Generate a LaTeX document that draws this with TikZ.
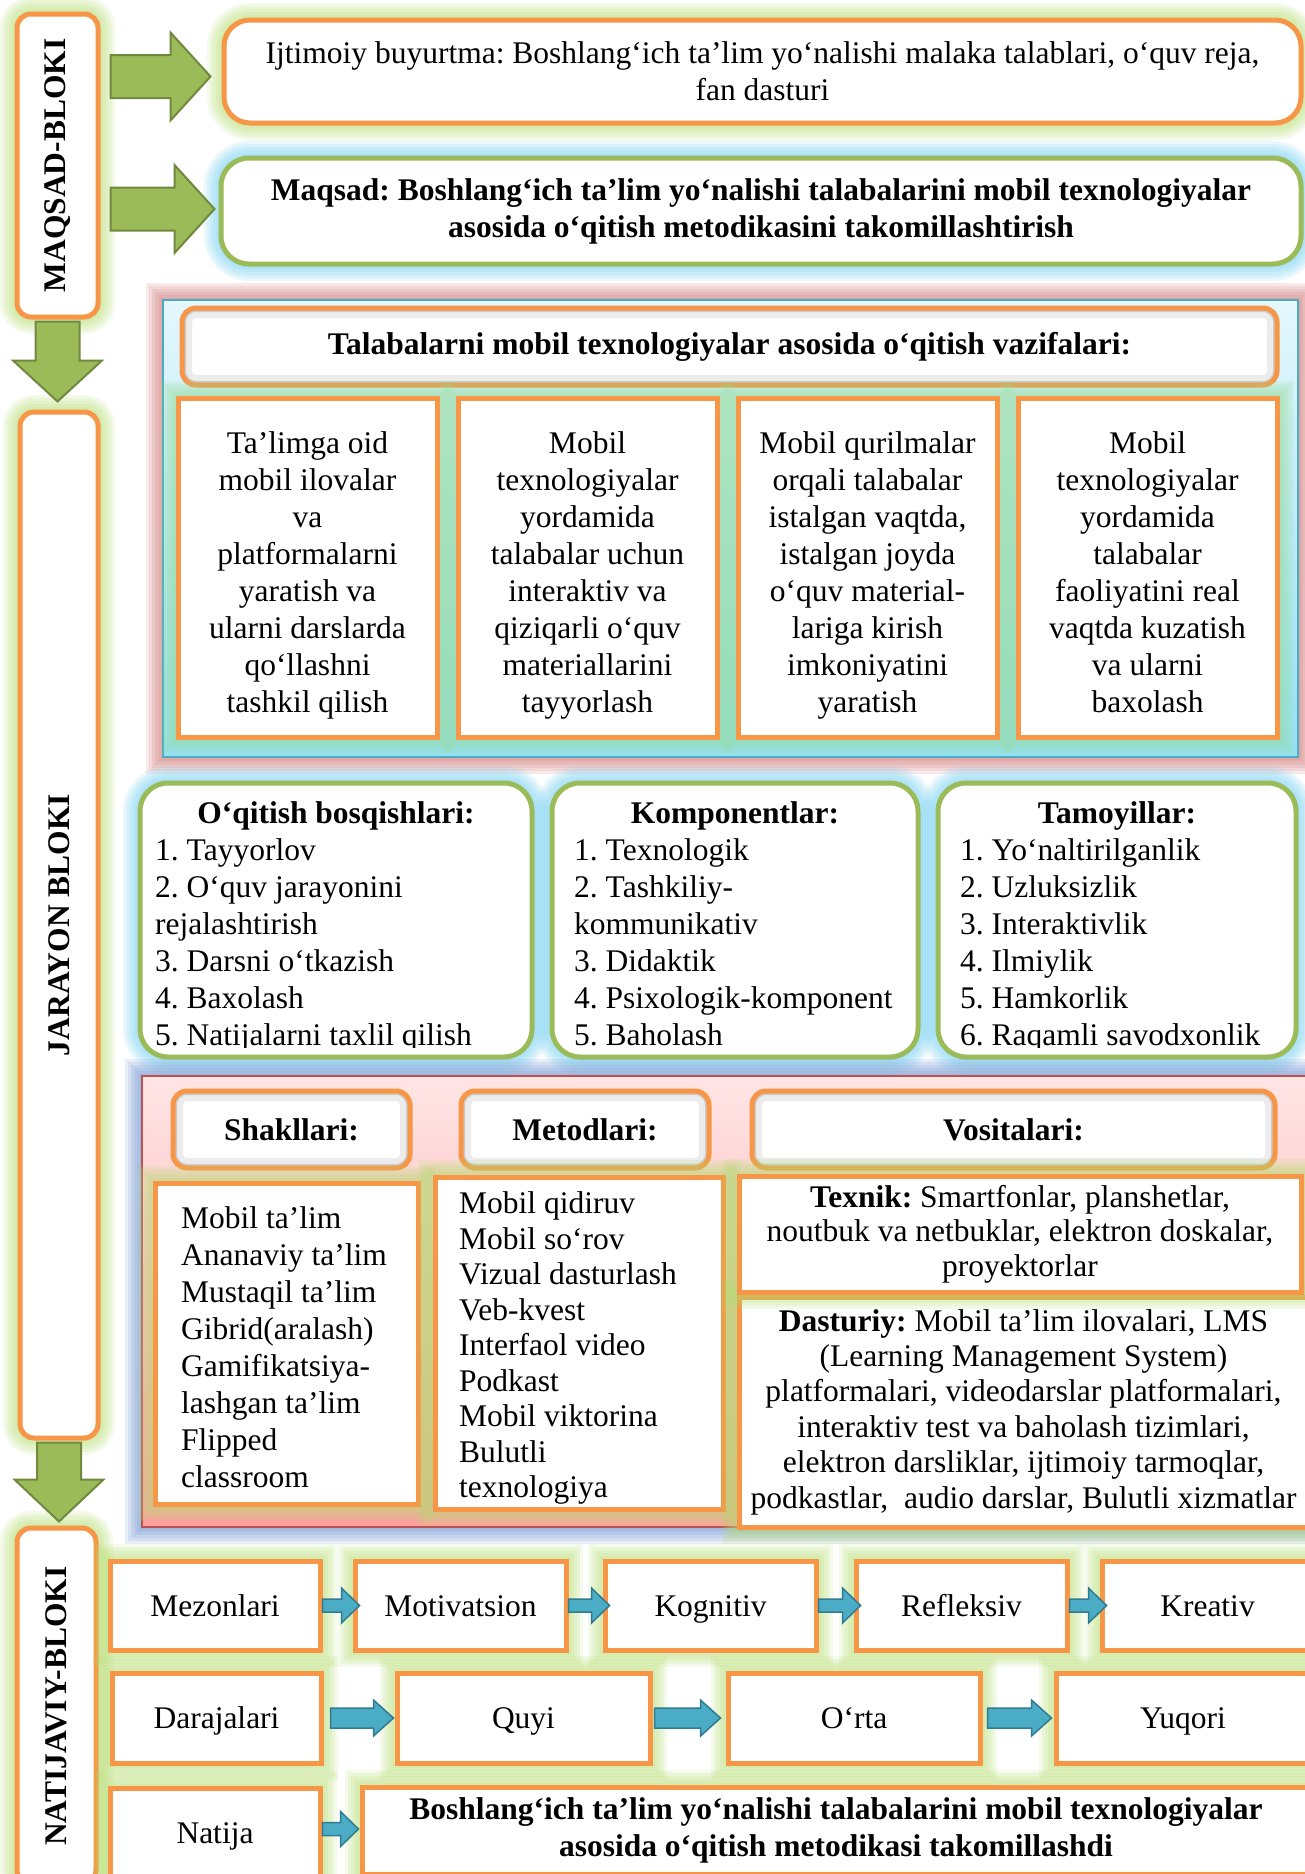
\documentclass[tikz,border=0pt]{standalone}
\usepackage{fontspec}
\setmainfont{Liberation Serif}
\usepackage{graphicx}
\usetikzlibrary{calc}
\frenchspacing

\definecolor{orng}{RGB}{247,150,70}
\definecolor{grnb}{RGB}{155,187,89}
\definecolor{glowg}{RGB}{180,220,110}
\definecolor{glowt}{RGB}{150,220,150}
\definecolor{glowc}{RGB}{110,205,240}
\definecolor{glowr}{RGB}{205,110,110}
\definecolor{glowbl}{RGB}{100,140,205}
\definecolor{cyantop}{RGB}{228,247,253}
\definecolor{cyanbot}{RGB}{150,224,244}
\definecolor{cyanline}{RGB}{75,172,198}
\definecolor{pinktop}{RGB}{255,229,229}
\definecolor{pinkbot}{RGB}{255,160,160}
\definecolor{pinkline}{RGB}{192,80,77}
\definecolor{arrg}{RGB}{155,187,89}
\definecolor{arrgd}{RGB}{113,137,63}
\definecolor{arrb}{RGB}{75,172,198}
\definecolor{arrbd}{RGB}{49,123,145}

% block arrows: style, from, to, half shaft, half head, head length
\newcommand{\harr}[6]{\filldraw[#1] let \p1=#2, \p2=#3 in (\x1,\y1+#4) -- (\x2-#6,\y1+#4) -- (\x2-#6,\y1+#5) -- (\x2,\y1) -- (\x2-#6,\y1-#5) -- (\x2-#6,\y1-#4) -- (\x1,\y1-#4) --cycle;}
\newcommand{\varr}[6]{\filldraw[#1] let \p1=#2, \p2=#3 in (\x1-#4,\y1) -- (\x1-#4,\y2+#6) -- (\x1-#5,\y2+#6) -- (\x1,\y2) -- (\x1+#5,\y2+#6) -- (\x1+#4,\y2+#6) -- (\x1+#4,\y1) --cycle;}
\newcommand{\toprow}{\rule{0pt}{37.5pt}}

\begin{document}
\begin{tikzpicture}[x=1pt,y=-1pt,
 every node/.style={font=\fontsize{31.5}{37}\selectfont,inner sep=0pt},
 halo/.style={preaction={draw=#1,draw opacity=.15,line width=34pt},
  preaction={draw=#1,draw opacity=.15,line width=28pt},
  preaction={draw=#1,draw opacity=.15,line width=22pt},
  preaction={draw=#1,draw opacity=.15,line width=16pt},
  preaction={draw=#1,draw opacity=.15,line width=10pt},
  preaction={draw=#1,draw opacity=.15,line width=5pt}},
 lblock/.style={draw=orng,line width=5pt,fill=white,rounded corners=14pt,halo=glowg},
 obox/.style={draw=orng,line width=5pt,fill=white,halo=glowg},
 nbox/.style={obox,text height=21.5pt,text depth=0pt},
 tbox/.style={draw=orng,line width=5pt,fill=white,halo=glowt,align=center},
 rbox/.style={draw=grnb,line width=5pt,fill=white,rounded corners=28pt,halo=glowc},
 hdr/.style={draw=orng,line width=5pt,fill=white,rounded corners=14pt,
  font=\fontsize{31.5}{37}\selectfont\bfseries,
  path picture={\draw[gray!15,line width=20pt,rounded corners=14pt] (path picture bounding box.south west) rectangle (path picture bounding box.north east);
   \draw[gray!40,line width=8pt,rounded corners=14pt] (path picture bounding box.south west) rectangle (path picture bounding box.north east);}},
 bold/.style={font=\fontsize{31.5}{37}\selectfont\bfseries},
 garr/.style={fill=arrg,draw=arrgd,line width=2pt},
 barr/.style={fill=arrb,draw=arrbd,line width=1.5pt}]
\useasboundingbox (0,0) rectangle (1304,1874);

% left column
\node[lblock,minimum width=81pt,minimum height=303pt] (maqsadblok) at (57.5,165.5) {\rotatebox{90}{\textbf{MAQSAD-BLOKI}}};
\node[lblock,minimum width=78pt,minimum height=1026pt] (jarayonblok) at (59,925) {\rotatebox{90}{\textbf{JARAYON BLOKI}}};
\node[lblock,minimum width=79pt,minimum height=356pt] (natijablok) at (56.5,1706) {\rotatebox{90}{\textbf{NATIJAVIY-BLOKI}}};

% maqsad
\node[obox,rounded corners=26pt,minimum width=1077pt,minimum height=103pt,align=center] (ijt) at (762.5,71.5) {Ijtimoiy buyurtma: Boshlang‘ich ta’lim yo‘nalishi malaka talablari, o‘quv reja,\\fan dasturi};
\node[rbox,bold,minimum width=1080pt,minimum height=106pt,align=center] (mqs) at (761,211) {Maqsad: Boshlang‘ich ta’lim yo‘nalishi talabalarini mobil texnologiyalar\\asosida o‘qitish metodikasini takomillashtirish};

% vazifalar
\node[draw=cyanline,line width=1.5pt,top color=cyantop,bottom color=cyanbot,halo=glowr,minimum width=1135pt,minimum height=457pt] (vazifa) at (730.5,528.5) {};
\node[hdr,minimum width=1095pt,minimum height=77pt] (hvaz) at (729.5,346.5) {Talabalarni mobil texnologiyalar asosida o‘qitish vazifalari:};
\node[tbox,minimum width=259pt,minimum height=339pt] (vaz1) at (307.5,567.5) {\toprow Ta’limga oid\\mobil ilovalar\\va\\platformalarni\\yaratish va\\ularni darslarda\\qo‘llashni\\tashkil qilish};
\node[tbox,minimum width=259pt,minimum height=339pt] (vaz2) at (587.5,567.5) {\toprow Mobil\\texnologiyalar\\yordamida\\talabalar uchun\\interaktiv va\\qiziqarli o‘quv\\materiallarini\\tayyorlash};
\node[tbox,minimum width=259pt,minimum height=339pt] (vaz3) at (867.5,567.5) {\toprow Mobil qurilmalar\\orqali talabalar\\istalgan vaqtda,\\istalgan joyda\\o‘quv material-\\lariga kirish\\imkoniyatini\\yaratish};
\node[tbox,minimum width=259pt,minimum height=339pt] (vaz4) at (1147.5,567.5) {\toprow Mobil\\texnologiyalar\\yordamida\\talabalar\\faoliyatini real\\vaqtda kuzatish\\va ularni\\baxolash\vphantom{y}};

% bosqich, komponent, tamoyil
\node[rbox,minimum width=392pt,minimum height=274pt] (bosq) at (336,920) {};
\node[rbox,minimum width=366pt,minimum height=274pt] (komp) at (735,920) {};
\node[rbox,minimum width=358pt,minimum height=274pt] (tamo) at (1117,920) {};
\node[bold,anchor=base] (hbosq) at (336,823) {O‘qitish bosqishlari:};
\node[bold,anchor=base] (hkomp) at (735,823) {Komponentlar:};
\node[bold,anchor=base] (htamo) at (1117,823) {Tamoyillar:};
\begin{scope}
\clip (130,790) rectangle (1304,1047);
\node[anchor=north west,align=left] (lbosq) at (155,838.5) {1. Tayyorlov\\2. O‘quv jarayonini\\rejalashtirish\\3. Darsni o‘tkazish\\4. Baxolash\\5. Natijalarni taxlil qilish};
\node[anchor=north west,align=left] (lkomp) at (574,838.5) {1. Texnologik\\2. Tashkiliy-\\kommunikativ\\3. Didaktik\\4. Psixologik-komponent\\5. Baholash};
\node[anchor=north west,align=left] (ltamo) at (960,838.5) {1. Yo‘naltirilganlik\\2. Uzluksizlik\\3. Interaktivlik\\4. Ilmiylik\\5. Hamkorlik\\6. Raqamli savodxonlik};
\end{scope}

% shakl, metod, vosita
\node[draw=pinkline,line width=1.5pt,top color=pinktop,bottom color=pinkbot,halo=glowbl,minimum width=1168pt,minimum height=451pt] (usul) at (726,1301.5) {};
\node[hdr,minimum width=237pt,minimum height=77pt] (hshak) at (291.5,1129.5) {Shakllari:};
\node[hdr,minimum width=248pt,minimum height=77pt] (hmet) at (585,1129.5) {Metodlari:};
\node[hdr,minimum width=523pt,minimum height=77pt] (hvos) at (1013.5,1129.5) {Vositalari:};
\node[obox,minimum width=263pt,minimum height=321pt] (shak) at (286.5,1343.5) {};
\node[obox,minimum width=288pt,minimum height=332pt] (met) at (579,1343) {};
\node[obox,minimum width=569pt,minimum height=230pt,align=center,font=\fontsize{31.5}{35.4}\selectfont] (das) at (1023.5,1412) {\textbf{Dasturiy:} Mobil ta’lim ilovalari, LMS\\(Learning Management System)\\platformalari, videodarslar platformalari,\\interaktiv test va baholash tizimlari,\\elektron darsliklar, ijtimoiy tarmoqlar,\\podkastlar,~ audio darslar, Bulutli xizmatlar};
\node[obox,minimum width=562pt,minimum height=116pt,align=center,font=\fontsize{31.5}{34.5}\selectfont] (tex) at (1020,1234) {\textbf{Texnik:} Smartfonlar, planshetlar,\\noutbuk va netbuklar, elektron doskalar,\\proyektorlar};
\node[anchor=north west,align=left] (lshak) at (181,1206.5) {Mobil ta’lim\\Ananaviy ta’lim\\Mustaqil ta’lim\\Gibrid(aralash)\\Gamifikatsiya-\\lashgan ta’lim\\Flipped\\classroom};
\node[anchor=north west,align=left,font=\fontsize{31.5}{35.5}\selectfont] (lmet) at (459,1191.5) {Mobil qidiruv\\Mobil so‘rov\\Vizual dasturlash\\Veb-kvest\\Interfaol video\\Podkast\\Mobil viktorina\\Bulutli\\texnologiya};

% natijalar
\node[nbox,minimum width=210pt,minimum height=89pt] (mez) at (215,1605.5) {Mezonlari};
\node[nbox,minimum width=211pt,minimum height=89pt] (mot) at (460.5,1605.5) {Motivatsion};
\node[nbox,minimum width=211pt,minimum height=89pt] (kog) at (710.5,1605.5) {Kognitiv};
\node[nbox,minimum width=211pt,minimum height=89pt] (ref) at (961.5,1605.5) {Refleksiv};
\node[nbox,minimum width=211pt,minimum height=89pt] (kre) at (1207.5,1605.5) {Kreativ};
\node[nbox,minimum width=209pt,minimum height=90pt] (dar) at (216.5,1718) {Darajalari};
\node[nbox,minimum width=253pt,minimum height=90pt] (quyi) at (523.5,1718) {Quyi};
\node[nbox,minimum width=252pt,minimum height=90pt] (orta) at (854,1718) {O‘rta};
\node[nbox,minimum width=254pt,minimum height=90pt] (yuq) at (1183,1718) {Yuqori};
\node[nbox,minimum width=210pt,minimum height=90pt] (nat) at (215,1833) {Natija};
\node[obox,bold,minimum width=948pt,minimum height=87pt,align=center] (fin) at (836,1830.5) {Boshlang‘ich ta’lim yo‘nalishi talabalarini mobil texnologiyalar\\asosida o‘qitish metodikasi takomillashdi};

% arrows
\harr{garr}{($(maqsadblok.east |- ijt.west)+(10,5)$)}{($(ijt.west)+(-11,5)$)}{21.5pt}{44pt}{40pt}
\harr{garr}{($(maqsadblok.east |- mqs.west)+(10,-2)$)}{($(mqs.west)+(-4,-2)$)}{21.5pt}{44pt}{40pt}
\varr{garr}{($(maqsadblok.south)+(0,2)$)}{($(jarayonblok.north)+(0,-8)$)}{22pt}{44.5pt}{41pt}
\varr{garr}{($(jarayonblok.south)+(0,2)$)}{($(natijablok.north)+(0,-4)$)}{22pt}{44.5pt}{42pt}
\harr{barr}{(mez.east)}{($(mot.west)+(7,0)$)}{6.5pt}{17.5pt}{18pt}
\harr{barr}{(mot.east)}{($(kog.west)+(7,0)$)}{6.5pt}{17.5pt}{18pt}
\harr{barr}{(kog.east)}{($(ref.west)+(7,0)$)}{6.5pt}{17.5pt}{18pt}
\harr{barr}{(ref.east)}{($(kre.west)+(7,0)$)}{6.5pt}{17.5pt}{18pt}
\harr{barr}{($(dar.east)+(7,0)$)}{($(quyi.west)+(-1,0)$)}{10pt}{18pt}{20pt}
\harr{barr}{($(quyi.east)+(2,0)$)}{($(orta.west)+(-5,0)$)}{10pt}{18pt}{20pt}
\harr{barr}{($(orta.east)+(5,0)$)}{($(yuq.west)+(-2,0)$)}{10pt}{18pt}{20pt}
\harr{barr}{($(nat.east)+(0,-4)$)}{($(fin.west)+(-1,-1)$)}{6.5pt}{17.5pt}{18pt}
\end{tikzpicture}
\end{document}
